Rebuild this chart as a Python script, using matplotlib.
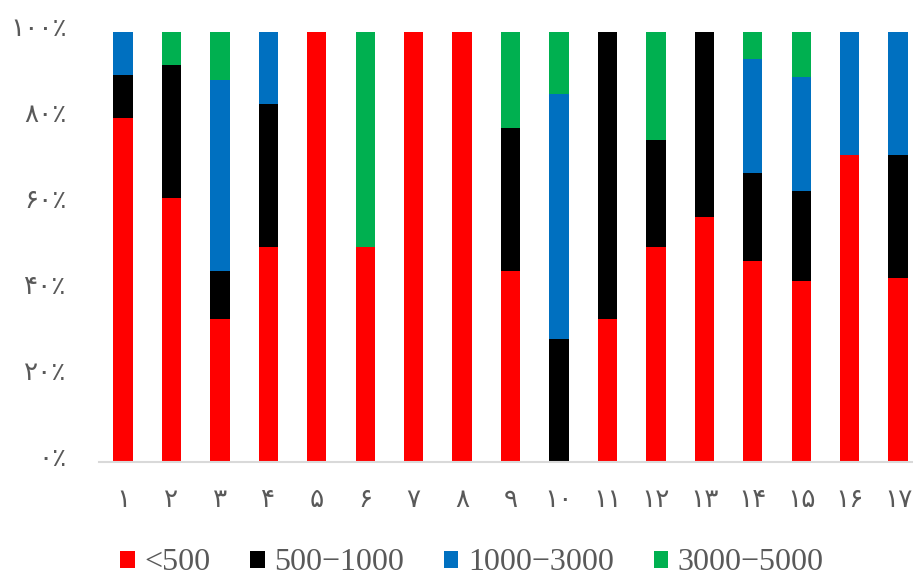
import matplotlib
matplotlib.use("Agg")
import matplotlib.pyplot as plt
import matplotlib.transforms as mtransforms
import numpy as np

# station numbers (Persian digits) and share of each class, percent
stations = ["۱", "۲", "۳", "۴", "۵", "۶", "۷", "۸", "۹", "۱۰",
            "۱۱", "۱۲", "۱۳", "۱۴", "۱۵", "۱۶", "۱۷"]
lt500 = [80.0, 61.5, 33.3, 50.0, 100, 50.0, 100, 100, 44.4, 0.0,
         33.3, 50.0, 57.1, 46.8, 42.1, 71.4, 42.9]
s500_1000 = [10.0, 30.8, 11.1, 33.3, 0, 0, 0, 0, 33.3, 28.6,
             66.7, 25.0, 42.9, 20.5, 21.1, 0, 28.5]
s1000_3000 = [10.0, 0, 44.4, 16.7, 0, 0, 0, 0, 0, 57.1,
              0, 0, 0, 26.6, 26.3, 28.6, 28.6]
s3000_5000 = [0, 7.7, 11.2, 0, 0, 50.0, 0, 0, 22.3, 14.3,
              0, 25.0, 0, 6.1, 10.5, 0, 0]
series_names = ["<500", "500−1000", "1000−3000", "3000−5000"]
series_colors = ["#FF0000", "#000000", "#0070C0", "#00B050"]
yticks = [0, 20, 40, 60, 80, 100]
ytick_labels = ["۰٪", "۲۰٪", "۴۰٪", "۶۰٪", "۸۰٪", "۱۰۰٪"]

fig = plt.figure(figsize=(9.13, 5.77), dpi=100)
ax = fig.add_axes([0.1082, 0.199, 0.902, 0.745])

x = np.arange(len(stations))
bottom = np.zeros(len(stations))
for vals, name, col in zip([lt500, s500_1000, s1000_3000, s3000_5000],
                           series_names, series_colors):
    vals = np.array(vals, dtype=float)
    ax.bar(x, vals, width=0.4, bottom=bottom, color=col, label=name,
           linewidth=0)
    bottom += vals

ax.set_xlim(-0.5, len(stations) - 0.5)
ax.set_ylim(0, 100)
ax.set_xticks(x)
ax.set_xticklabels(stations, family="DejaVu Sans", fontsize=19, color="#595959")
ax.set_yticks(yticks)
ax.set_yticklabels(ytick_labels, family="DejaVu Sans", fontsize=19, color="#595959")
ax.tick_params(axis="both", length=0)
ax.tick_params(axis="x", pad=18)
ax.tick_params(axis="y", pad=23)

# persian digits sit a little high in the original
shift = mtransforms.ScaledTranslation(0, 6 / 100, fig.dpi_scale_trans)
for lbl in ax.get_yticklabels():
    lbl.set_transform(lbl.get_transform() + shift)

for s in ["top", "right", "left"]:
    ax.spines[s].set_visible(False)
ax.spines["bottom"].set_color("#D9D9D9")
ax.spines["bottom"].set_linewidth(1.5)

leg = fig.legend(loc="center", bbox_to_anchor=(472 / 913, 1 - 563 / 577),
                 ncol=4, frameon=False, handlelength=0.45, handleheight=0.45,
                 handletextpad=0.3, columnspacing=1.25,
                 prop={"family": "Liberation Serif", "size": 23})
for t in leg.get_texts():
    t.set_color("#595959")

fig.savefig("out.png", dpi=100)
